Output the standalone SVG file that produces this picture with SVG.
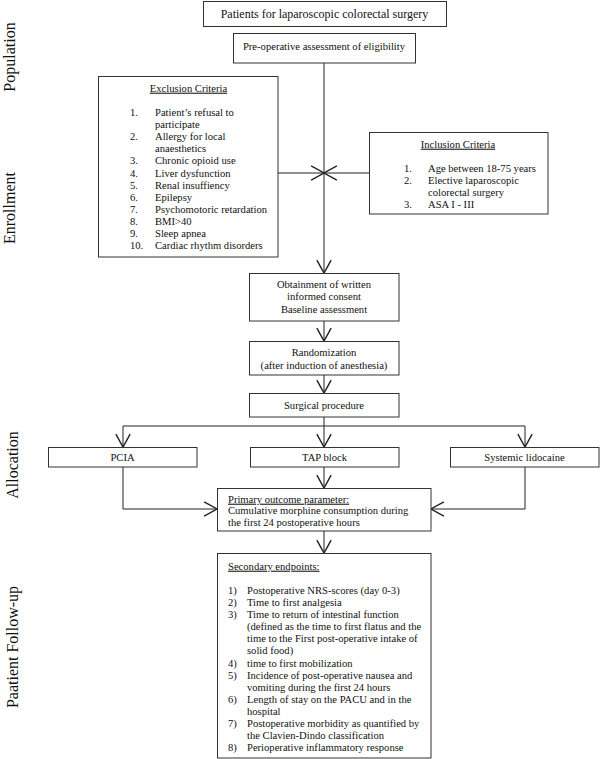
<svg xmlns="http://www.w3.org/2000/svg" width="600" height="759" viewBox="0 0 600 759">
<defs>
<marker id="arr" markerWidth="20" markerHeight="20" refX="0" refY="0" viewBox="-11 -7 12 14" markerUnits="userSpaceOnUse" orient="auto" overflow="visible">
<path d="M-9,-5 L0,0 L-9,5" fill="none" stroke="#222" stroke-width="1"/>
</marker>
<style>
.box{fill:#fff;stroke:#333;stroke-width:1}
.t{font-family:"Liberation Serif","Times New Roman",serif;font-size:10.6px;fill:#111}
.c{text-anchor:middle}
.big{font-size:12px}
.side{font-family:"Liberation Serif","Times New Roman",serif;font-size:16px;fill:#111;text-anchor:middle}
.u{text-decoration:underline}
.ln{fill:none;stroke:#222;stroke-width:1}
</style>
</defs>
<rect width="600" height="759" fill="#fff"/>

<g id="side-labels">
<text class="side" transform="translate(15,57) rotate(-90)">Population</text>
<text class="side" transform="translate(15,208) rotate(-90)">Enrollment</text>
<text class="side" transform="translate(18,465) rotate(-90)">Allocation</text>
<text class="side" transform="translate(18,647) rotate(-90)">Paatient Follow-up</text>
</g>

<g id="connectors">
<line class="ln" x1="324" y1="63" x2="324" y2="273" marker-end="url(#arr)"/>
<line class="ln" x1="278" y1="173" x2="324" y2="173" marker-end="url(#arr)"/>
<line class="ln" x1="369" y1="173" x2="324" y2="173" marker-end="url(#arr)"/>
<line class="ln" x1="324" y1="321" x2="324" y2="341" marker-end="url(#arr)"/>
<line class="ln" x1="324" y1="375" x2="324" y2="393" marker-end="url(#arr)"/>
<line class="ln" x1="324" y1="417" x2="324" y2="426"/>
<line class="ln" x1="123" y1="426" x2="525" y2="426"/>
<line class="ln" x1="123" y1="426" x2="123" y2="447" marker-end="url(#arr)"/>
<line class="ln" x1="324" y1="426" x2="324" y2="447" marker-end="url(#arr)"/>
<line class="ln" x1="525" y1="426" x2="525" y2="447" marker-end="url(#arr)"/>
<line class="ln" x1="324" y1="467" x2="324" y2="488" marker-end="url(#arr)"/>
<polyline class="ln" points="123,467 123,509 217,509" marker-end="url(#arr)"/>
<polyline class="ln" points="525,467 525,509 431,509" marker-end="url(#arr)"/>
<line class="ln" x1="324" y1="531" x2="324" y2="553" marker-end="url(#arr)"/>
</g>

<g id="patients">
<rect class="box" x="203.5" y="1.5" width="243" height="25"/>
<text class="t c big" x="324.5" y="18">Patients for laparoscopic colorectal surgery</text>
</g>

<g id="preop">
<rect class="box" x="233.5" y="33.5" width="182" height="29.5"/>
<text class="t c" x="324" y="50">Pre-operative assessment of eligibility</text>
</g>

<g id="exclusion">
<rect class="box" x="98.5" y="76.5" width="179.5" height="180.5"/>
<text class="t c u" x="188.5" y="91.7">Exclusion Criteria</text>
<g class="t">
<text x="130" y="116">1.</text><text x="155" y="116">Patient’s refusal to</text>
<text x="155" y="128.1">participate</text>
<text x="130" y="140.2">2.</text><text x="155" y="140.2">Allergy for local</text>
<text x="155" y="152.3">anaesthetics</text>
<text x="130" y="164.4">3.</text><text x="155" y="164.4">Chronic opioid use</text>
<text x="130" y="176.5">4.</text><text x="155" y="176.5">Liver dysfunction</text>
<text x="130" y="188.6">5.</text><text x="155" y="188.6">Renal insuffiency</text>
<text x="130" y="200.7">6.</text><text x="155" y="200.7">Epilepsy</text>
<text x="130" y="212.8">7.</text><text x="155" y="212.8">Psychomotoric retardation</text>
<text x="130" y="224.9">8.</text><text x="155" y="224.9">BMI&gt;40</text>
<text x="130" y="237">9.</text><text x="155" y="237">Sleep apnea</text>
<text x="130" y="249.1">10.</text><text x="155" y="249.1">Cardiac rhythm disorders</text>
</g>
</g>

<g id="inclusion">
<rect class="box" x="369.5" y="132.5" width="178.5" height="81.5"/>
<text class="t c u" x="458" y="147.7">Inclusion Criteria</text>
<g class="t">
<text x="404" y="172">1.</text><text x="428" y="172">Age between 18-75 years</text>
<text x="404" y="184.1">2.</text><text x="428" y="184.1">Elective laparoscopic</text>
<text x="428" y="196.2">colorectal surgery</text>
<text x="404" y="208.3">3.</text><text x="428" y="208.3">ASA I - III</text>
</g>
</g>

<g id="consent">
<rect class="box" x="249.5" y="273.5" width="149.5" height="47.5"/>
<text class="t c" x="324" y="288">Obtainment of written</text>
<text class="t c" x="324" y="300">informed consent</text>
<text class="t c" x="324" y="312.5">Baseline assessment</text>
</g>

<g id="randomization">
<rect class="box" x="249.5" y="341.5" width="149.5" height="33.5"/>
<text class="t c" x="324" y="355.7">Randomization</text>
<text class="t c" x="324" y="368.7">(after induction of anesthesia)</text>
</g>

<g id="surgical">
<rect class="box" x="249.5" y="393.5" width="149.5" height="23.5"/>
<text class="t c" x="324" y="409">Surgical procedure</text>
</g>

<g id="pcia">
<rect class="box" x="48.5" y="447.5" width="148.5" height="19.5"/>
<text class="t c" x="122.5" y="460.5">PCIA</text>
</g>

<g id="tap">
<rect class="box" x="250.5" y="447.5" width="148.5" height="19.5"/>
<text class="t c" x="324.5" y="460.5">TAP block</text>
</g>

<g id="lidocaine">
<rect class="box" x="450.5" y="447.5" width="148.5" height="19.5"/>
<text class="t c" x="524.5" y="460.5">Systemic lidocaine</text>
</g>

<g id="primary">
<rect class="box" x="217.5" y="488.5" width="213.5" height="42.5"/>
<text class="t u" x="228" y="502.7">Primary outcome parameter:</text>
<text class="t" x="228" y="514.2">Cumulative morphine consumption during</text>
<text class="t" x="228" y="525.7">the first 24 postoperative hours</text>
</g>

<g id="secondary">
<rect class="box" x="217.5" y="553.5" width="213.5" height="204.5"/>
<text class="t u" x="228" y="569.7">Secondary endpoints:</text>
<g class="t">
<text x="228" y="593.7">1)</text><text x="247" y="593.7">Postoperative NRS-scores (day 0-3)</text>
<text x="228" y="605.8">2)</text><text x="247" y="605.8">Time to first analgesia</text>
<text x="228" y="618">3)</text><text x="247" y="618">Time to return of intestinal function</text>
<text x="247" y="630.1">(defined as the time to first flatus and the</text>
<text x="247" y="642.2">time to the First post-operative intake of</text>
<text x="247" y="654.3">solid food)</text>
<text x="228" y="666.5">4)</text><text x="247" y="666.5">time to first mobilization</text>
<text x="228" y="678.6">5)</text><text x="247" y="678.6">Incidence of post-operative nausea and</text>
<text x="247" y="690.7">vomiting during the first 24 hours</text>
<text x="228" y="702.8">6)</text><text x="247" y="702.8">Length of stay on the PACU and in the</text>
<text x="247" y="715">hospital</text>
<text x="228" y="727.1">7)</text><text x="247" y="727.1">Postoperative morbidity as quantified by</text>
<text x="247" y="739.2">the Clavien-Dindo classification</text>
<text x="228" y="751.4">8)</text><text x="247" y="751.4">Perioperative inflammatory response</text>
</g>
</g>
</svg>
